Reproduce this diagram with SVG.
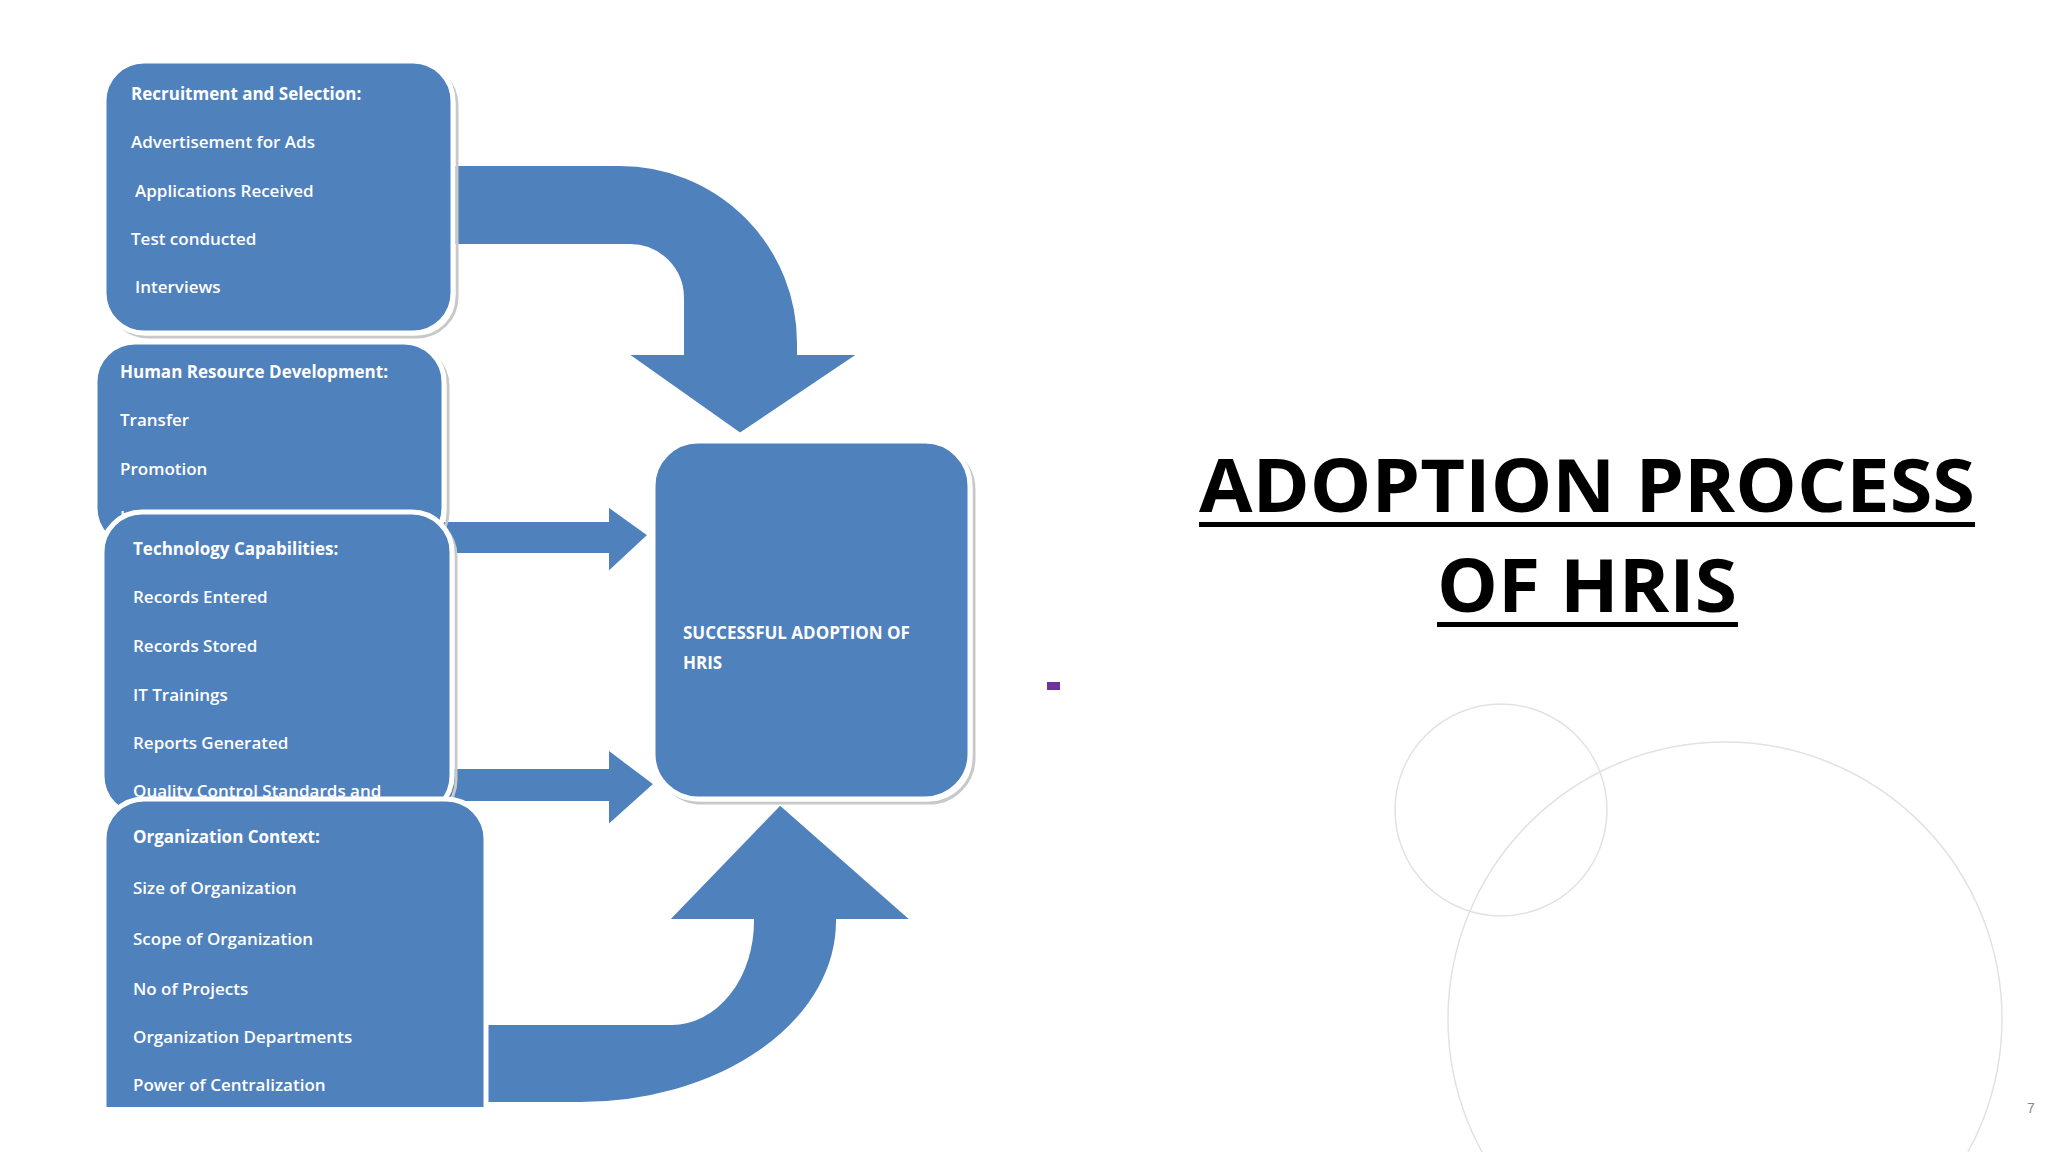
<svg xmlns="http://www.w3.org/2000/svg" width="2048" height="1152" viewBox="0 0 2048 1152">
<style>
.box{fill:#4f81bd;stroke:#ffffff;stroke-width:5}
.sh{fill:none;stroke:#c8c8c8;stroke-width:3}
.arr{fill:#4f81bd;stroke:#ffffff;stroke-width:4}
.t{font-family:"Open Sans","Liberation Sans",sans-serif;font-size:17px;font-weight:600;fill:#ffffff}
.h{font-weight:700}
.title{font-family:"Open Sans","Liberation Sans",sans-serif;font-weight:700;font-size:74px;fill:#000000}
</style>
<rect width="2048" height="1152" fill="#ffffff"/>
<g id="decor" fill="none" stroke="#e2e2e2" stroke-width="1.5">
<circle cx="1501" cy="810" r="106"/>
<circle cx="1725" cy="1019" r="277"/>
<rect x="1047" y="682" width="13" height="8" fill="#7030a0" stroke="none"/>
<text x="2027" y="1113" font-family="Liberation Sans,sans-serif" font-size="14" fill="#888888" stroke="none">7</text>
</g>
<g id="connectors">
<path class="arr" d="M440,164 L620,164 A179,179 0 0 1 799,343 L799,353 L862,353 L740,435 L624,353 L682,353 L682,298 A52,52 0 0 0 630,246 L440,246 Z"/>
<path class="arr" d="M440,520 L607,520 L607,504 L650,535 L607,575 L607,555 L440,555 Z"/>
<path class="arr" d="M440,767 L607,767 L607,747 L656,784 L607,828 L607,803 L440,803 Z"/>
<path class="arr" d="M470,1104 L580,1104 A258,183 0 0 0 838,921 L914,921 L780,803 L666,921 L752,921 A80,102 0 0 1 672,1023 L470,1023 Z"/>
</g>
<g id="n-center">
<rect class="sh" x="657" y="445" width="317" height="358" rx="45"/>
<rect class="box" x="653" y="441" width="317" height="358" rx="45"/>
<text class="t h" x="683" y="639" font-size="18">SUCCESSFUL ADOPTION OF</text>
<text class="t h" x="683" y="669" font-size="18">HRIS</text>
</g>
<g id="n-recruitment">
<rect class="sh" x="108" y="65" width="349" height="272" rx="40"/>
<rect class="box" x="104" y="61" width="349" height="272" rx="40"/>
<text class="t h" x="131" y="100">Recruitment and Selection:</text>
<text class="t" x="131" y="148">Advertisement for Ads</text>
<text class="t" x="135" y="197">Applications Received</text>
<text class="t" x="131" y="245">Test conducted</text>
<text class="t" x="135" y="293">Interviews</text>
</g>
<g id="n-hrd">
<rect class="sh" x="99" y="346" width="349" height="206" rx="40"/>
<rect class="box" x="95" y="342" width="349" height="206" rx="40"/>
<text class="t h" x="120" y="378">Human Resource Development:</text>
<text class="t" x="120" y="426">Transfer</text>
<text class="t" x="120" y="475">Promotion</text>
<text class="t" x="120" y="523">Leave</text>
</g>
<g id="n-tech">
<rect class="sh" x="106" y="516" width="350" height="304" rx="40"/>
<rect class="box" x="102" y="512" width="350" height="304" rx="40"/>
<text class="t h" x="133" y="555">Technology Capabilities:</text>
<text class="t" x="133" y="603">Records Entered</text>
<text class="t" x="133" y="652">Records Stored</text>
<text class="t" x="133" y="701">IT Trainings</text>
<text class="t" x="133" y="749">Reports Generated</text>
<text class="t" x="133" y="797">Quality Control Standards and</text>
</g>
<g id="n-org">
<path class="box" d="M104,1107 L104,839 A40,40 0 0 1 144,799 L446,799 A40,40 0 0 1 486,839 L486,1107"/>
<text class="t h" x="133" y="843" font-size="20">Organization Context:</text>
<text class="t" x="133" y="894" font-size="19">Size of Organization</text>
<text class="t" x="133" y="945" font-size="19">Scope of Organization</text>
<text class="t" x="133" y="995" font-size="19">No of Projects</text>
<text class="t" x="133" y="1043" font-size="19">Organization Departments</text>
<text class="t" x="133" y="1091" font-size="19">Power of Centralization</text>
</g>
<g id="title">
<text class="title" x="1587" y="512" text-anchor="middle" textLength="776" lengthAdjust="spacingAndGlyphs">ADOPTION PROCESS</text>
<rect x="1199" y="522" width="776" height="5" fill="#000"/>
<text class="title" x="1587" y="612" text-anchor="middle" textLength="300" lengthAdjust="spacingAndGlyphs">OF HRIS</text>
<rect x="1437" y="622" width="301" height="5" fill="#000"/>
</g>
</svg>
